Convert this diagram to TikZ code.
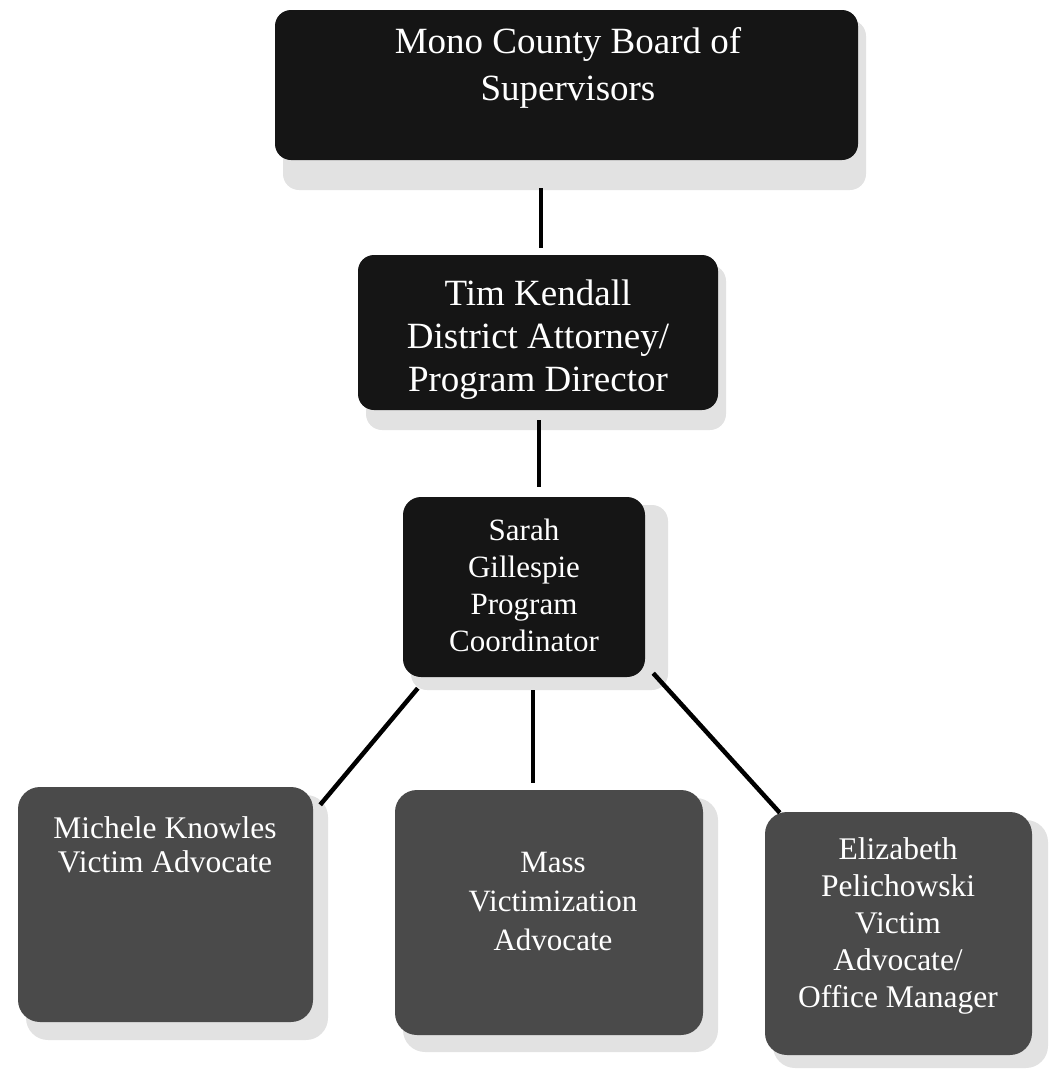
\documentclass[tikz,border=0pt]{standalone}
\usepackage{fontspec}
\setmainfont{Liberation Serif}
\usetikzlibrary{calc}
\definecolor{boxdark}{HTML}{151515}
\definecolor{boxgray}{HTML}{4A4A4A}
\definecolor{shadowcol}{HTML}{E2E2E2}
\begin{document}
\begin{tikzpicture}[x=1pt,y=-1pt,
  boxbase/.style={draw=none, rounded corners=16pt, inner sep=0pt},
  darkbox/.style={boxbase, fill=boxdark},
  graybox/.style={boxbase, fill=boxgray, rounded corners=22pt},
  lbl/.style={text=white, align=center, inner sep=0pt},
  conn/.style={line width=4.5pt, black}
]
\useasboundingbox (0,0) rectangle (1057,1074);
% shadows
\fill[shadowcol, rounded corners=16pt] (283,20) rectangle (866,190);
\fill[shadowcol, rounded corners=16pt] (366,265) rectangle (726,430);
\fill[shadowcol, rounded corners=16pt] (411,505) rectangle (668,690);
\fill[shadowcol, rounded corners=22pt] (26,795) rectangle (328,1040);
\fill[shadowcol, rounded corners=22pt] (403,798) rectangle (718,1052);
\fill[shadowcol, rounded corners=22pt] (773,820) rectangle (1048,1068);
% boxes
\node[darkbox, minimum width=583pt, minimum height=150pt] (top) at (566.5,85) {};
\node[darkbox, minimum width=360pt, minimum height=155pt] (tim) at (538,332.5) {};
\node[darkbox, minimum width=242pt, minimum height=180pt, rounded corners=18pt] (sarah) at (524,587) {};
\node[graybox, minimum width=295pt, minimum height=235pt] (mich) at (165.5,904.5) {};
\node[graybox, minimum width=308pt, minimum height=245pt] (mass) at (549,912.5) {};
\node[graybox, minimum width=267pt, minimum height=243pt] (eliz) at (898.5,933.5) {};
% labels
\node[lbl, font=\fontsize{37}{47}\selectfont] (topT) at (568,68) {Mono County Board of\\Supervisors};
\node[lbl, font=\fontsize{37}{43}\selectfont] (timT) at (538,340) {Tim Kendall\\District Attorney/\\Program Director};
\node[lbl, font=\fontsize{31}{37}\selectfont] (sarahT) at (524,585) {Sarah\\Gillespie\\Program\\Coordinator};
\node[lbl, font=\fontsize{31.5}{34}\selectfont] (michT) at (165,845) {Michele Knowles\\Victim Advocate};
\node[lbl, font=\fontsize{31}{39}\selectfont] (massT) at (553,901) {Mass\\Victimization\\Advocate};
\node[lbl, font=\fontsize{31.5}{37}\selectfont] (elizT) at (898,926) {Elizabeth\\Pelichowski\\Victim\\Advocate/\\Office Manager};
% connectors
\draw[conn] ($(top.south)+(-25.5,28)$) -- ($(tim.north)+(3,-7)$);
\draw[conn] ($(tim.south)+(1,10)$) -- ($(sarah.north)+(15,-10)$);
\draw[conn] ($(sarah.south west)+(15,11)$) -- ($(mich.north east)+(7,18)$);
\draw[conn] ($(sarah.south)+(9,13)$) -- ($(mass.north)+(-16,-7)$);
\draw[conn] ($(sarah.south east)+(8,-4)$) -- ($(eliz.north west)+(15,1)$);
\end{tikzpicture}
\end{document}
